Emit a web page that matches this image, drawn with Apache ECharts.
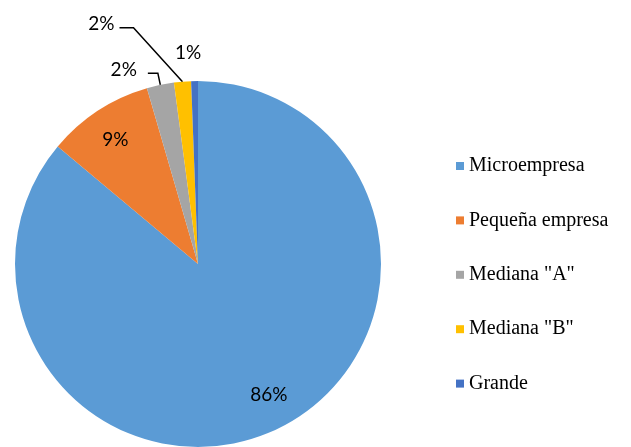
<!DOCTYPE html>
<html>
<head>
<meta charset="utf-8">
<script src="https://cdn.jsdelivr.net/npm/echarts@6/dist/echarts.min.js"></script>
<style>
  html, body { margin: 0; padding: 0; background: #fff; }
  #chart { width: 631px; height: 447px; }
</style>
</head>
<body>
<div id="chart"></div>
<script>
// data
const categories = ["Microempresa", "Pequeña empresa", 'Mediana "A"', 'Mediana "B"', "Grande"];
const shares = [86.1, 9.4, 2.4, 1.5, 0.6];
const colors = ["#5B9BD5", "#ED7D31", "#A5A5A5", "#FFC000", "#4472C4"];

// label placement per slice (inside for the two big ones)
const labelPos = ["inside", "inside", "outside", "outside", "outside"];
const labelShift = [[31, 45], [-31, -45], [-6, -3], [-6, 0], [22, -6]];

const chart = echarts.init(document.getElementById("chart"));

const serifFont = "Liberation Serif, DejaVu Serif, serif";

const option = {
  animation: false,
  textStyle: { fontFamily: serifFont },
  legend: {
    orient: "vertical",
    left: 451,
    top: 151,
    itemWidth: 8,
    itemHeight: 8,
    itemGap: 34.4,
    icon: "rect",
    textStyle: {
      fontFamily: serifFont,
      fontSize: 20,
      lineHeight: 20,
      color: "#000",
      rich: {
        s: { fontFamily: serifFont, fontSize: 20, color: "#000" },
      },
    },
    formatter: (name) => "{s|" + name + "}",
    data: categories,
  },
  series: [
    {
      type: "pie",
      center: [198, 264],
      radius: 183,
      startAngle: 90,
      clockwise: true,
      avoidLabelOverlap: false,
      label: {
        fontFamily: "Lato",
        fontSize: 19,
        color: "#000",
        formatter: (p) => Math.round(p.percent) + "%",
      },
      labelLine: {
        lineStyle: { color: "#000", width: 1.5 },
      },
      labelLayout: function (p) {
        const s = labelShift[p.dataIndex];
        const out = { dx: s[0], dy: s[1] };
        // yellow slice: slanted leader like the original
        if (p.dataIndex === 3 && p.labelLinePoints) {
          const p0 = p.labelLinePoints[0];
          const p1 = [p0[0] - 49, p0[1] - 54];
          const p2 = [p1[0] - 14, p1[1]];
          out.labelLinePoints = [p0, p1, p2];
          out.x = p2[0] - 5;
          out.y = p2[1] - 4;
          delete out.dx;
          delete out.dy;
        }
        return out;
      },
      data: categories.map((name, i) => ({
        name: name,
        value: shares[i],
        itemStyle: { color: colors[i] },
        label: { position: labelPos[i] },
        labelLine: {
          show: i === 2 || i === 3,
          length: i === 4 ? 22 : 12,
          length2: 10,
        },
      })),
    },
  ],
};

chart.setOption(option);
</script>
</body>
</html>
